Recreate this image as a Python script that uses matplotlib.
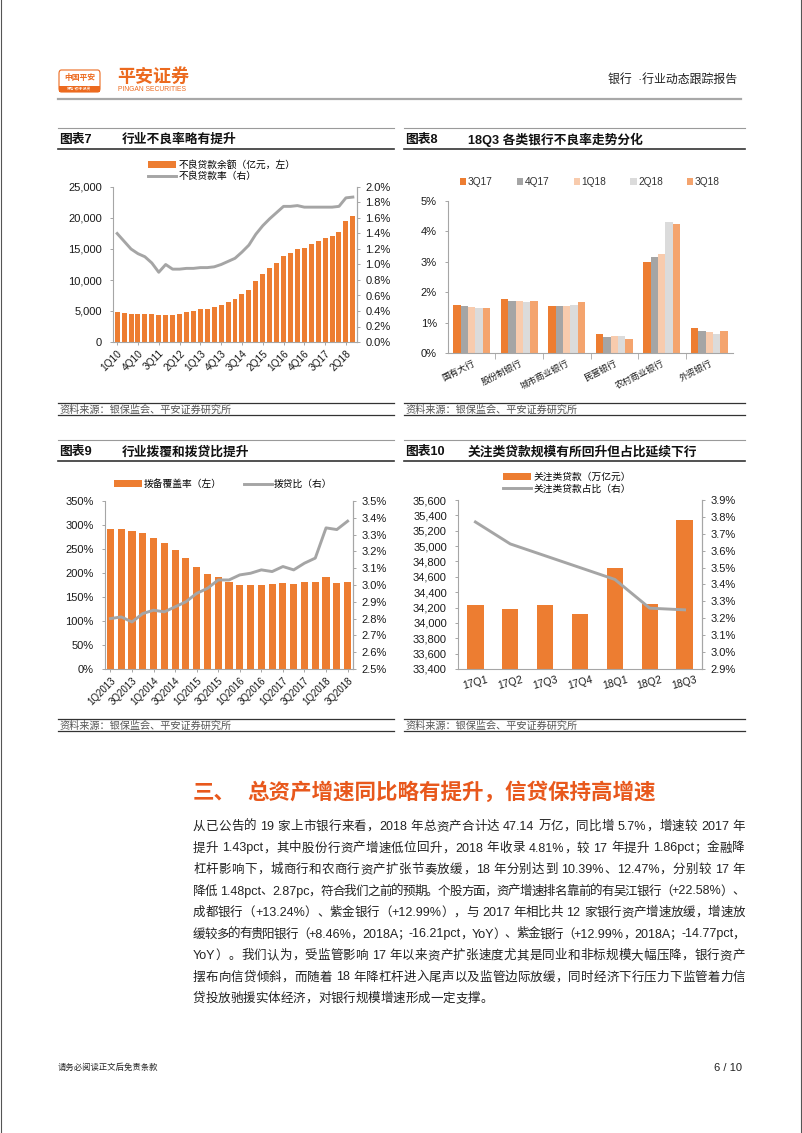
import matplotlib
matplotlib.use("Agg")
import matplotlib.pyplot as plt
from matplotlib.lines import Line2D
from matplotlib.patches import Rectangle, FancyBboxPatch
from matplotlib.ticker import FuncFormatter, MultipleLocator

W, H = 802, 1133
plt.rcParams['font.family'] = ['Liberation Sans', 'Noto Sans CJK SC']

ORANGE = '#ED7D31'
GRAY = '#A5A5A5'
BRAND = '#EC6A1F'

# ---------------------------------------------------------------- data
# chart 7: NPL balance (100m yuan) and NPL ratio (%)
q7 = [f"{q}Q{y:02d}" for y in range(10, 19) for q in range(1, 5)][:35]
npl_bal = [4900, 4700, 4500, 4500, 4550, 4450, 4350, 4280, 4380, 4560,
           4790, 4930, 5270, 5400, 5640, 5920, 6460, 6940, 7670, 8430,
           9830, 10920, 11860, 12740, 13920, 14370, 14940, 15120, 15800,
           16360, 16700, 17060, 17740, 19570, 20250]
npl_ratio = [1.40, 1.30, 1.20, 1.14, 1.10, 1.02, 0.90, 1.00, 0.94, 0.94,
             0.95, 0.95, 0.96, 0.96, 0.97, 1.00, 1.04, 1.08, 1.16, 1.25,
             1.39, 1.50, 1.59, 1.67, 1.75, 1.75, 1.76, 1.74, 1.74, 1.74,
             1.74, 1.74, 1.75, 1.86, 1.87]

# chart 8: NPL ratio by bank type (%)
bank_types = ['国有大行', '股份制银行', '城市商业银行', '民营银行', '农村商业银行', '外资银行']
periods8 = ['3Q17', '4Q17', '1Q18', '2Q18', '3Q18']
colors8 = ['#ED7D31', '#A5A5A5', '#F8CBAD', '#DBDBDB', '#F4A46E']
ratio_3q17 = [1.57, 1.78, 1.56, 0.64, 3.00, 0.82]
ratio_4q17 = [1.53, 1.71, 1.53, 0.53, 3.17, 0.71]
ratio_1q18 = [1.50, 1.71, 1.53, 0.56, 3.27, 0.68]
ratio_2q18 = [1.48, 1.69, 1.57, 0.56, 4.30, 0.64]
ratio_3q18 = [1.48, 1.70, 1.68, 0.47, 4.24, 0.74]

# chart 9: provision coverage (%) and provision-to-loan ratio (%)
q9 = [f"{q}Q{y}" for y in range(2013, 2019) for q in range(1, 5)][:23]
coverage = [292.0, 292.5, 287.0, 282.7, 273.7, 262.9, 247.2, 232.1, 212.0,
            198.4, 190.8, 181.2, 175.0, 176.0, 175.5, 176.4, 178.8, 177.2,
            180.4, 181.4, 191.3, 178.7, 180.7]
prov_loan = [2.80, 2.81, 2.78, 2.83, 2.85, 2.84, 2.87, 2.90, 2.95, 2.98,
             3.03, 3.03, 3.06, 3.07, 3.09, 3.08, 3.11, 3.09, 3.13, 3.16,
             3.34, 3.33, 3.38]

# chart 10: special-mention loans
q10 = ['17Q1', '17Q2', '17Q3', '17Q4', '18Q1', '18Q2', '18Q3']
sm_loans = [34230, 34180, 34235, 34110, 34720, 34250, 35340]
sm_ratio = [3.77, 3.64, 3.57, 3.50, 3.43, 3.26, 3.25]

body_lines = [
    "从已公告的 19 家上市银行来看，2018 年总资产合计达 47.14 万亿，同比增 5.7%，增速较 2017 年",
    "提升 1.43pct，其中股份行资产增速低位回升，2018 年收录 4.81%，较 17 年提升 1.86pct；金融降",
    "杠杆影响下，城商行和农商行资产扩张节奏放缓，18 年分别达到 10.39%、12.47%，分别较 17 年",
    "降低 1.48pct、2.87pc，符合我们之前的预期。个股方面，资产增速排名靠前的有吴江银行（+22.58%）、",
    "成都银行（+13.24%）、紫金银行（+12.99%），与 2017 年相比共 12 家银行资产增速放缓，增速放",
    "缓较多的有贵阳银行（+8.46%，2018A；-16.21pct，YoY）、紫金银行（+12.99%，2018A；-14.77pct，",
    "YoY）。我们认为，受监管影响 17 年以来资产扩张速度尤其是同业和非标规模大幅压降，银行资产",
    "摆布向信贷倾斜，而随着 18 年降杠杆进入尾声以及监管边际放缓，同时经济下行压力下监管着力信",
    "贷投放驰援实体经济，对银行规模增速形成一定支撑。",
]

fig = plt.figure(figsize=(W / 100, H / 100), dpi=100)


def fx(x):
    return x / W


def fy(y):
    return 1 - y / H


def add_ax(l, t, r, b):
    return fig.add_axes([fx(l), fy(b), (r - l) / W, (b - t) / H])


def hline(x0, x1, y, color, lw):
    fig.add_artist(Line2D([fx(x0), fx(x1)], [fy(y), fy(y)],
                          transform=fig.transFigure, color=color, lw=lw))


def text(x, y, s, **kw):
    kw.setdefault('va', 'center')
    return fig.text(fx(x), fy(y), s, **kw)


def style(ax, ax2=None, size=8):
    ax.spines['top'].set_visible(False)
    for sp in ['left', 'right', 'bottom']:
        ax.spines[sp].set_color('#A6A6A6')
        ax.spines[sp].set_linewidth(0.8)
    ax.tick_params(length=2.5, width=0.7, color='#A6A6A6', labelsize=size,
                   labelcolor='#1a1a1a', pad=2)
    ax.tick_params(axis='y', pad=5.5)
    if ax2 is not None:
        for sp in ['top', 'left', 'bottom']:
            ax2.spines[sp].set_visible(False)
        ax2.spines['right'].set_color('#A6A6A6')
        ax2.spines['right'].set_linewidth(0.8)
        ax2.tick_params(length=2.5, width=0.7, color='#A6A6A6', labelsize=size,
                        labelcolor='#1a1a1a', pad=3.5)
    else:
        ax.spines['right'].set_visible(False)


def chart_frame(x0, x1, ytop, label, title):
    hline(x0, x1, ytop, '#9a9a9a', 0.8)
    text(x0 + 1, ytop + 12, label, fontsize=9.2, fontweight='bold', color='#111')
    text(x0 + 64, ytop + 12, title, fontsize=9.2, fontweight='bold', color='#111')
    hline(x0, x1, ytop + 21, '#333333', 1.2)


def source(x0, x1, yline):
    hline(x0, x1, yline, '#333333', 0.9)
    text(x0 + 1, yline + 6.5, "资料来源：银保监会、平安证券研究所", fontsize=7.3, color='#555')
    hline(x0, x1, yline + 12, '#333333', 0.9)


# ---------------------------------------------------------------- page
hline(58, 741, 99, '#a8a8a8', 1.6)
fig.add_artist(Line2D([fx(0.6), fx(0.6)], [0, 1], transform=fig.transFigure, color='#555', lw=0.8))
fig.add_artist(Line2D([fx(801.4), fx(801.4)], [0, 1], transform=fig.transFigure, color='#555', lw=0.8))

# logo
fig.add_artist(FancyBboxPatch((fx(59), fy(92)), 41 / W, 22 / H,
                              boxstyle="round,pad=0,rounding_size=0.003",
                              transform=fig.transFigure, fc='white', ec=BRAND, lw=0.8))
fig.add_artist(Rectangle((fx(59), fy(92)), 41 / W, 6.5 / H,
                         transform=fig.transFigure, fc=BRAND, ec='none'))
text(79.5, 78, "中国平安", fontsize=5.6, fontweight='bold', color=BRAND, ha='center')
text(79.5, 88.8, "保险·银行·投资", fontsize=2.6, color='white', ha='center')
text(117, 77, "平安证券", fontsize=13, fontweight='bold', color=BRAND)
text(118, 89.5, "PINGAN SECURITIES", fontsize=4.9, color=BRAND)
text(737, 80, "银行  ·行业动态跟踪报告", fontsize=8.6, color='#222', ha='right')

# chart frames
chart_frame(58, 394, 128, "图表7", "行业不良率略有提升")
chart_frame(404, 745, 128, "图表8", "18Q3 各类银行不良率走势分化")
chart_frame(58, 394, 440, "图表9", "行业拨覆和拨贷比提升")
chart_frame(404, 745, 440, "图表10", "关注类贷款规模有所回升但占比延续下行")
source(58, 394, 403)
source(404, 745, 403)
source(58, 394, 719)
source(404, 745, 719)

# ---------------------------------------------------------------- chart 7
ax = add_ax(113, 187, 357, 342)
ax2 = ax.twinx()
x7 = list(range(len(q7)))
b7 = ax.bar(x7, npl_bal, width=0.72, color=ORANGE, zorder=2)
l7, = ax2.plot(x7, npl_ratio, color=GRAY, lw=2.1, zorder=3)
ax.set_xlim(-0.6, len(q7) - 0.4)
ax.set_ylim(0, 25000)
ax.yaxis.set_major_locator(MultipleLocator(5000))
ax.yaxis.set_major_formatter(FuncFormatter(lambda v, p: f"{v:,.0f}"))
ax2.set_ylim(0, 2.0)
ax2.yaxis.set_major_locator(MultipleLocator(0.2))
ax2.yaxis.set_major_formatter(FuncFormatter(lambda v, p: f"{v:.1f}%"))
ax.set_xticks(x7[::3])
ax.set_xticklabels(q7[::3], rotation=45, ha='right', rotation_mode='anchor')
style(ax, ax2)
ax.tick_params(axis='x', labelsize=7.3)
ax.legend([b7, l7], ["不良贷款余额（亿元，左）", "不良贷款率（右）"],
          loc='upper left', bbox_to_anchor=(fx(148), fy(160)),
          bbox_transform=fig.transFigure, frameon=False, fontsize=7,
          handlelength=2.9, handletextpad=0.2, labelspacing=0.15,
          borderpad=0, borderaxespad=0)

# ---------------------------------------------------------------- chart 8
ax = add_ax(448, 201, 733, 353)
series8 = [ratio_3q17, ratio_4q17, ratio_1q18, ratio_2q18, ratio_3q18]
bw = 0.156
handles = []
for i, (vals, c) in enumerate(zip(series8, colors8)):
    xs = [g + (i - 2) * bw for g in range(len(bank_types))]
    handles.append(ax.bar(xs, vals, width=bw, color=c, zorder=2))
ax.set_xlim(-0.5, len(bank_types) - 0.5)
ax.set_ylim(0, 5)
ax.yaxis.set_major_locator(MultipleLocator(1))
ax.yaxis.set_major_formatter(FuncFormatter(lambda v, p: f"{v:.0f}%"))
ax.set_xticks(range(len(bank_types)))
ax.set_xticklabels(bank_types, rotation=27, ha='right', rotation_mode='anchor')
ax.set_xticks([g + 0.5 for g in range(len(bank_types) - 1)], minor=True)
style(ax)
ax.tick_params(axis='x', which='major', length=0, pad=4, labelsize=6.4)
ax.tick_params(axis='x', which='minor', length=4, color='#A6A6A6')
ax.legend(handles, periods8, loc='center', bbox_to_anchor=(fx(590), fy(182)),
          bbox_transform=fig.transFigure, ncol=5, frameon=False, fontsize=7.3,
          handlelength=0.6, handleheight=0.6, handletextpad=0.15,
          columnspacing=2.4, borderpad=0, labelcolor='#333')

# ---------------------------------------------------------------- chart 9
ax = add_ax(105, 501, 353, 669)
ax2 = ax.twinx()
x9 = list(range(len(q9)))
b9 = ax.bar(x9, coverage, width=0.66, color=ORANGE, zorder=2)
l9, = ax2.plot(x9, prov_loan, color=GRAY, lw=2.1, zorder=3)
ax.set_xlim(-0.5, len(q9) - 0.5)
ax.set_ylim(0, 350)
ax.yaxis.set_major_locator(MultipleLocator(50))
ax.yaxis.set_major_formatter(FuncFormatter(lambda v, p: f"{v:.0f}%"))
ax2.set_ylim(2.5, 3.5)
ax2.yaxis.set_major_locator(MultipleLocator(0.1))
ax2.yaxis.set_major_formatter(FuncFormatter(lambda v, p: f"{v:.1f}%"))
ax.set_xticks(x9[::2])
ax.set_xticklabels(q9[::2], rotation=45, ha='right', rotation_mode='anchor')
style(ax, ax2)
ax.tick_params(axis='x', labelsize=7)
ax.legend([b9, l9], ["拨备覆盖率（左）", "拨贷比（右）"], loc='center left',
          bbox_to_anchor=(fx(114), fy(484)), bbox_transform=fig.transFigure,
          ncol=2, frameon=False, fontsize=7, handlelength=2.9,
          handletextpad=0.2, columnspacing=2.2, borderpad=0, borderaxespad=0)

# ---------------------------------------------------------------- chart 10
ax = add_ax(458, 500, 702, 669)
ax2 = ax.twinx()
x10 = list(range(len(q10)))
b10 = ax.bar(x10, sm_loans, width=0.47, color=ORANGE, zorder=2)
l10, = ax2.plot(x10, sm_ratio, color=GRAY, lw=2.1, zorder=3)
ax.set_xlim(-0.5, len(q10) - 0.5)
ax.set_ylim(33400, 35600)
ax.yaxis.set_major_locator(MultipleLocator(200))
ax.yaxis.set_major_formatter(FuncFormatter(lambda v, p: f"{v:,.0f}"))
ax2.set_ylim(2.9, 3.9)
ax2.yaxis.set_major_locator(MultipleLocator(0.1))
ax2.yaxis.set_major_formatter(FuncFormatter(lambda v, p: f"{v:.1f}%"))
ax.set_xticks(x10)
ax.set_xticklabels(q10, rotation=15, ha='center')
style(ax, ax2)
ax.tick_params(axis='x', length=0, pad=4, labelsize=7.5)
ax.legend([b10, l10], ["关注类贷款（万亿元）", "关注类贷款占比（右）"],
          loc='upper left', bbox_to_anchor=(fx(503), fy(472)),
          bbox_transform=fig.transFigure, frameon=False, fontsize=7,
          handlelength=2.9, handletextpad=0.2, labelspacing=0.15,
          borderpad=0, borderaxespad=0)

# ---------------------------------------------------------------- section text
SEC = '#E8581C'
text(193, 793, "三、", fontsize=15.5, fontweight='bold', color=SEC)
text(247, 793, "总资产增速同比略有提升，信贷保持高增速", fontsize=15.5,
     fontweight='bold', color=SEC)


def tokenize(line):
    toks, buf, space = [], "", False
    for ch in line:
        if ch == " ":
            if buf:
                toks.append((buf, space))
                buf = ""
            space = True
        elif ord(ch) < 128:
            buf += ch
        else:
            if buf:
                toks.append((buf, space))
                buf, space = "", False
            toks.append((ch, space))
            space = False
    if buf:
        toks.append((buf, space))
    return toks


def justified(lines, x0, x1, y0, dy, size):
    renderer = fig.canvas.get_renderer()
    sp = 0.278 * size * 100 / 72
    for i, line in enumerate(lines):
        toks = tokenize(line)
        objs = [text(0, y0 + i * dy, t, fontsize=size, color='#222') for t, _ in toks]
        widths = [o.get_window_extent(renderer).width for o in objs]
        natural = sum(widths) + sp * sum(1 for _, s in toks[1:] if s)
        extra = (x1 - x0 - natural) / (len(toks) - 1) if i < len(lines) - 1 else 0
        x = x0
        for j, (o, (t, s)) in enumerate(zip(objs, toks)):
            if j > 0:
                x += extra + (sp if s else 0)
            o.set_x(fx(x))
            x += widths[j]


justified(body_lines, 193, 745, 827, 21.5, 9)

# footer
text(58, 1068, "请务必阅读正文后免责条款", fontsize=6, color='#222')
text(742, 1068, "6 / 10", fontsize=8, color='#222', ha='right')

fig.savefig("out.png", dpi=100)
